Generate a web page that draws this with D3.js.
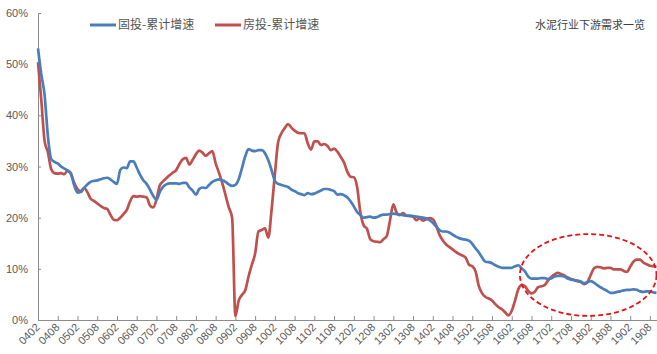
<!DOCTYPE html>
<html>
<head>
<meta charset="utf-8">
<script src="https://cdn.jsdelivr.net/npm/d3@7"></script>
<style>
  html, body { margin: 0; padding: 0; background: #fff; }
  svg { display: block; }
</style>
</head>
<body>
<svg id="chart" width="657" height="354"></svg>
<script>
// Monthly cumulative YoY growth (%), Feb 2004 – Oct 2019
const startYear = 2004, startMonth = 2;

// 固投-累计增速 (fixed-asset investment)
const faiGrowth = [
  53.1, 48.0, 44.0, 36.0, 31.5, 30.9, 30.6, 30.0, 29.6, 29.2, 28.7,
  26.3, 24.9, 25.0, 25.8, 26.5, 27.0, 27.2, 27.3, 27.5, 27.7, 27.8, 27.5,
  27.0, 26.6, 29.3, 29.8, 29.7, 31.0, 31.0, 29.8, 28.4, 27.3, 26.6, 25.5,
  24.3, 23.5, 25.0, 26.0, 26.5, 26.7, 26.7, 26.7, 26.6, 26.8, 26.8, 25.9,
  25.3, 24.5, 25.6, 25.9, 25.8, 26.4, 27.0, 27.3, 27.5, 27.3, 27.0, 26.5,
  26.2, 26.4, 27.5, 29.7, 32.0, 33.4, 33.1, 33.0, 33.2, 33.2, 32.6, 31.2,
  29.3, 27.2, 26.6, 26.4, 26.2, 26.0, 25.5, 25.2, 24.8, 24.6, 24.4, 24.8,
  24.6, 24.7, 25.0, 25.3, 25.6, 25.6, 25.4, 25.2, 24.5, 24.6, 24.4, 24.0,
  23.2, 22.2, 21.1, 20.5, 20.0, 20.1, 20.2, 20.0, 20.1, 20.4, 20.6, 20.6,
  20.7, 20.8, 20.7, 20.6, 20.5, 20.4, 20.4, 20.3, 20.2, 20.1, 20.0, 19.9,
  19.5, 19.0, 18.3, 17.6, 17.3, 17.3, 17.1, 16.7, 16.3, 16.0, 15.8, 15.7,
  15.5, 14.9, 14.0, 13.2, 12.2, 11.4, 11.3, 11.1, 10.7, 10.4, 10.2, 10.2,
  10.2, 10.2, 10.5, 10.7, 10.1, 9.5, 8.5, 8.1, 8.1, 8.1, 8.2, 8.2,
  8.0, 8.1, 8.5, 8.6, 8.6, 8.5, 8.1, 7.9, 7.8, 7.7, 7.5, 7.2,
  7.4, 7.6, 7.3, 6.8, 6.4, 6.0, 5.7, 5.3, 5.3, 5.5, 5.6, 5.8,
  5.9, 5.9, 6.0, 5.9, 5.6, 5.5, 5.6, 5.6, 5.4, 5.3
];

// 房投-累计增速 (real-estate investment)
const realEstateGrowth = [
  50.4, 43.0, 35.0, 32.8, 29.5, 28.7, 28.6, 28.7, 28.5, 29.2, 28.5,
  26.8, 25.6, 25.2, 25.8, 25.0, 23.7, 23.3, 22.8, 22.3, 21.9, 21.7, 20.6,
  19.6, 19.5, 20.0, 20.7, 21.5, 23.2, 24.2, 24.1, 24.2, 24.1, 24.0, 22.4,
  22.0, 23.5, 26.3, 27.1, 27.7, 28.3, 28.8, 29.3, 30.5, 31.4, 31.7, 30.4,
  31.3, 32.4, 33.1, 32.7, 32.1, 32.6, 33.0, 30.6, 28.8, 26.8, 24.4, 22.0,
  20.0, 0.8, 3.8, 4.9, 5.8, 8.5, 10.8, 13.0, 17.3, 17.6, 17.9, 16.1,
  21.5, 28.5, 34.8, 36.5, 37.5, 38.3, 37.6, 37.0, 36.6, 36.5, 36.5, 34.5,
  33.3, 34.9, 34.9, 34.2, 34.4, 34.0, 33.2, 33.5, 32.9, 31.9, 30.8, 29.0,
  28.0, 27.9, 26.0, 21.0, 18.5, 17.8, 15.8, 15.4, 15.3, 15.2, 15.8, 16.4,
  19.5, 22.6, 21.0, 20.5, 20.9, 20.4, 20.3, 20.2, 19.5, 19.9, 19.4, 19.7,
  19.9, 19.7, 18.5, 16.7, 15.6, 14.8, 14.3, 13.8, 13.3, 12.9, 12.6, 12.2,
  10.8, 10.5, 9.5, 6.6, 5.2, 4.5, 4.2, 3.8, 3.1, 2.5, 2.1, 1.5,
  0.9, 1.8, 3.8, 6.0, 6.8, 6.6, 5.7, 5.2, 5.5, 6.4, 6.6, 6.8,
  7.7, 8.4, 8.9, 9.2, 9.0, 8.7, 8.3, 8.0, 7.8, 7.6, 7.4, 7.0,
  7.4, 8.8, 10.1, 10.4, 10.3, 10.1, 10.2, 10.2, 9.9, 9.9, 9.9, 9.6,
  9.4, 10.4, 11.4, 11.8, 11.8, 11.2, 10.9, 10.6, 10.5, 10.4
];

const tickLabels = [
  "0402","0408","0502","0508","0602","0608","0702","0708","0802","0808",
  "0902","0908","1002","1008","1102","1108","1202","1208","1302","1308",
  "1402","1408","1502","1508","1602","1608","1702","1708","1802","1808",
  "1902","1908"
];
const yTicks = [0, 10, 20, 30, 40, 50, 60];

const seriesNames = ["固投-累计增速", "房投-累计增速"];
const seriesColors = ["#4a7ebb", "#c0504d"];
const chartTitle = "水泥行业下游需求一览";

// Category labels "YYMM" for each month
const months = faiGrowth.map((_, i) => {
  const m = startMonth - 1 + i;
  const yr = startYear + Math.floor(m / 12);
  const mm = (m % 12) + 1;
  return String(yr % 100).padStart(2, "0") + String(mm).padStart(2, "0");
});

const svg = d3.select("#chart");
const plotLeft = 38, plotRight = 656.5, plotTop = 13, plotBottom = 320;

const x = d3.scalePoint().domain(months).range([plotLeft, plotRight]);
const y = d3.scaleLinear().domain([0, 60]).range([plotBottom, plotTop]);

const axisColor = "#8c8c8c";
const labelColor = "#595959";

// Y axis
const yAxis = svg.append("g")
  .attr("transform", `translate(${plotLeft},0)`)
  .call(d3.axisLeft(y).tickValues(yTicks).tickFormat(d => d + "%")
    .tickSizeInner(-3).tickSizeOuter(0).tickPadding(10));
yAxis.select(".domain").attr("stroke", axisColor);
yAxis.selectAll(".tick line").attr("stroke", axisColor);
yAxis.selectAll("text")
  .attr("fill", labelColor)
  .style("font-family", "'Liberation Sans', Arial, sans-serif")
  .style("font-size", "11px");

// X axis
const xAxis = svg.append("g")
  .attr("transform", `translate(0,${plotBottom})`)
  .call(d3.axisBottom(x).tickValues(tickLabels)
    .tickSizeInner(-4).tickSizeOuter(0).tickPadding(0));
xAxis.select(".domain").attr("stroke", axisColor).attr("d", `M${plotLeft},0.5H657`);
xAxis.selectAll(".tick line").attr("stroke", axisColor);
xAxis.selectAll("text")
  .attr("fill", labelColor)
  .style("font-family", "'Liberation Sans', Arial, sans-serif")
  .style("font-size", "11px")
  .attr("text-anchor", "end")
  .attr("dy", null)
  .attr("y", 0)
  .attr("transform", "translate(2,8) rotate(-45)");

// Lines
const line = d3.line()
  .x((d, i) => x(months[i]))
  .y(d => y(d))
  .curve(d3.curveMonotoneX);

svg.append("path")
  .datum(realEstateGrowth)
  .attr("fill", "none")
  .attr("stroke", seriesColors[1])
  .attr("stroke-width", 2.7)
  .attr("stroke-linejoin", "round")
  .attr("d", line);

svg.append("path")
  .datum(faiGrowth)
  .attr("fill", "none")
  .attr("stroke", seriesColors[0])
  .attr("stroke-width", 2.7)
  .attr("stroke-linejoin", "round")
  .attr("d", line);

// Highlight ellipse around the 2016–2019 divergence
const ex0 = x("1606") - 5, ex1 = 656.5;
const ey0 = y(16.8), ey1 = y(0.8);
svg.append("ellipse")
  .attr("cx", (ex0 + ex1) / 2)
  .attr("cy", (ey0 + ey1) / 2)
  .attr("rx", (ex1 - ex0) / 2)
  .attr("ry", (ey1 - ey0) / 2)
  .attr("fill", "none")
  .attr("stroke", "#e8111a")
  .attr("stroke-width", 1.8)
  .attr("stroke-dasharray", "5,3");

// Legend
const legend = svg.append("g");
const legendX = [90, 215];
seriesNames.forEach((name, k) => {
  legend.append("line")
    .attr("x1", legendX[k]).attr("x2", legendX[k] + 26)
    .attr("y1", 25).attr("y2", 25)
    .attr("stroke", seriesColors[k]).attr("stroke-width", 3);
  legend.append("text")
    .attr("x", legendX[k] + 28).attr("y", 25)
    .attr("dy", "0.35em")
    .attr("fill", "#555")
    .style("font-family", "'Noto Sans CJK SC', sans-serif")
    .style("font-size", "12px")
    .text(name);
});

// Title
svg.append("text")
  .attr("x", 645).attr("y", 25).attr("dy", "0.35em")
  .attr("text-anchor", "end")
  .attr("fill", "#404040")
  .style("font-family", "'Noto Sans CJK SC', sans-serif")
  .style("font-size", "11px")
  .text(chartTitle);
</script>
</body>
</html>
